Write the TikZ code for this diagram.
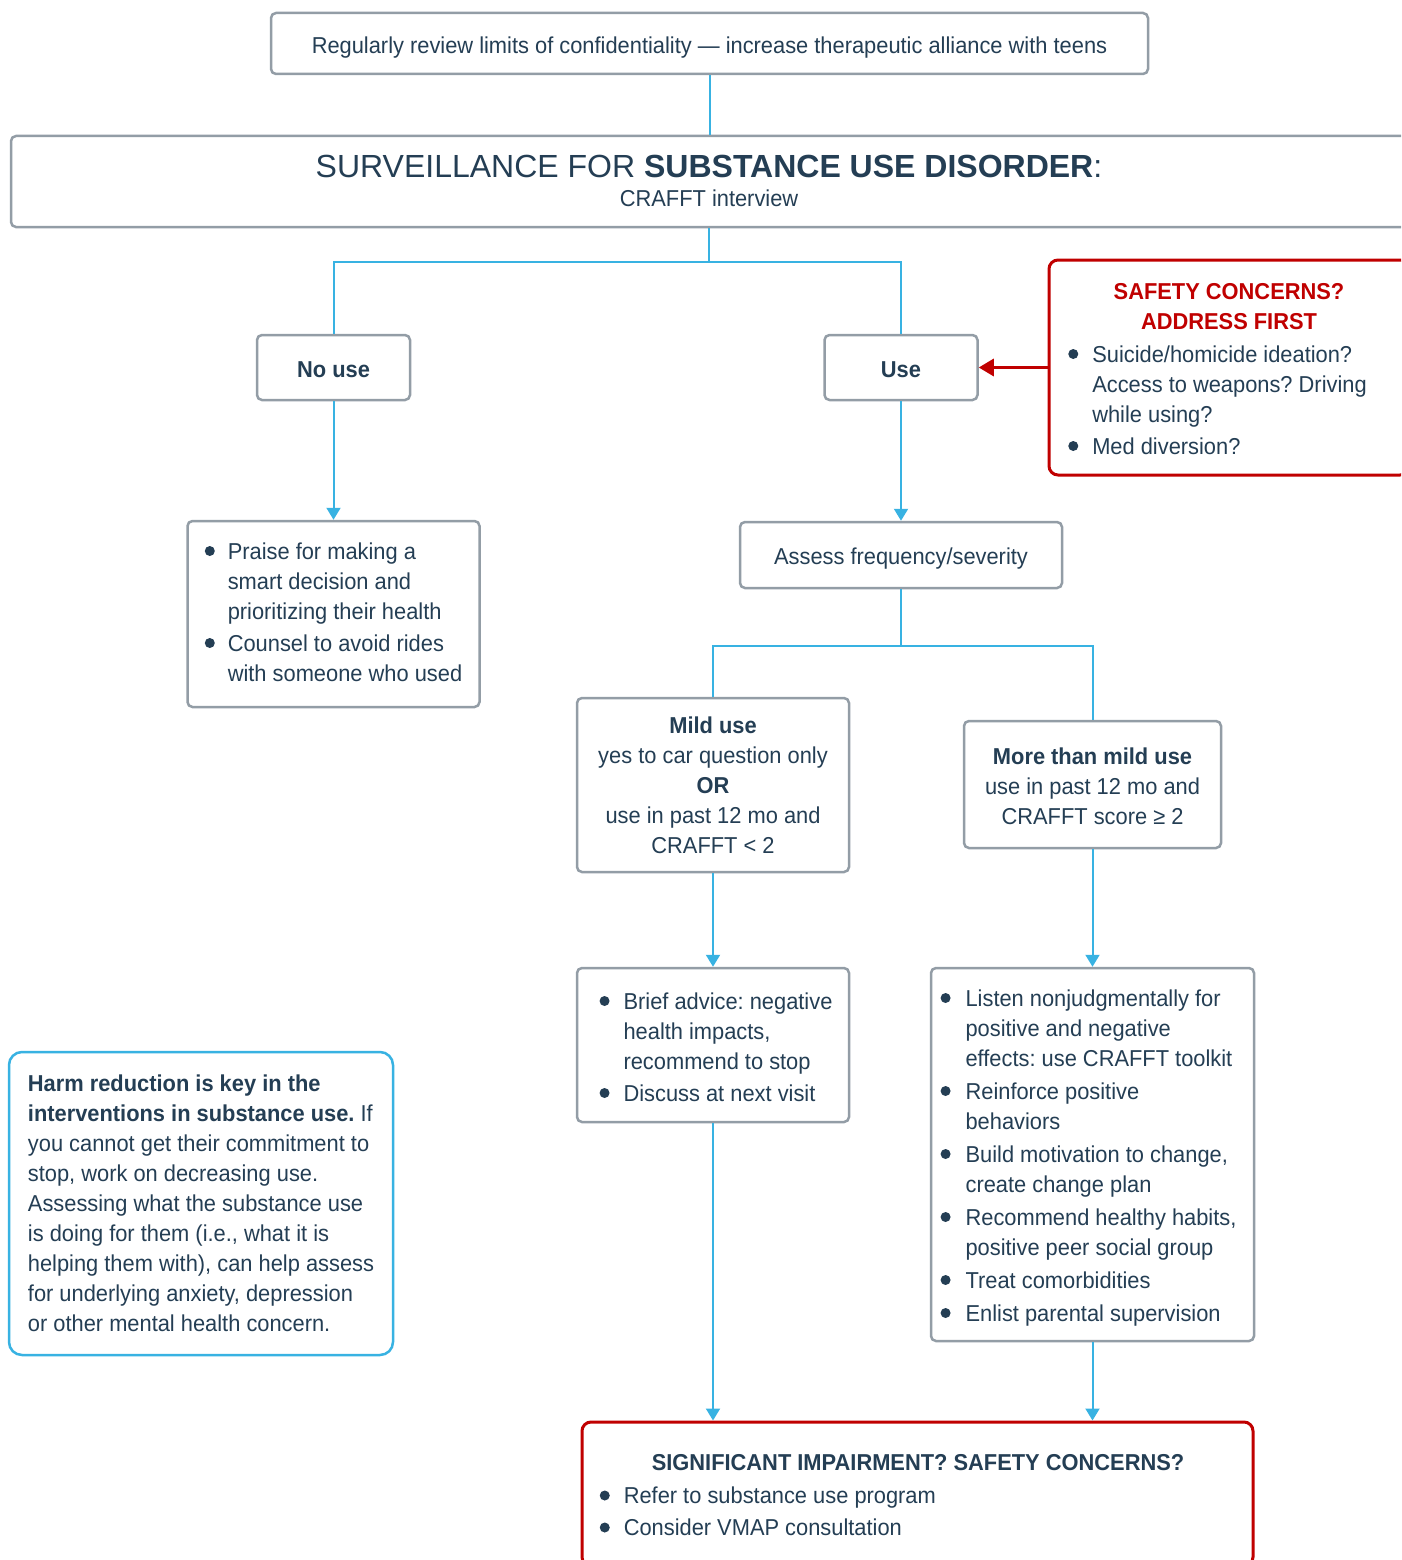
\documentclass[tikz,border=0pt]{standalone}
\usepackage{fontspec}
\setmainfont[FakeStretch=0.95]{Liberation Sans}
\newfontfamily\widefont{Liberation Sans}
\usetikzlibrary{arrows.meta}
\definecolor{txt}{RGB}{36,62,84}
\definecolor{boxgray}{RGB}{147,157,166}
\definecolor{lineblue}{RGB}{56,178,226}
\definecolor{redc}{RGB}{192,0,0}
\frenchspacing
\newcommand{\mybul}{\tikz[baseline=0pt]\fill[txt] (5pt,8pt) circle[radius=5pt];}
\newcommand{\dn}[2]{\raisebox{-#1}[\height][\depth]{#2}}
\begin{document}
\begin{tikzpicture}[x=1pt,y=-1pt,
  base/.style={text=txt, inner sep=0pt, align=center, font=\fontsize{23}{30}\selectfont},
  box/.style={base, draw=boxgray, line width=2.5pt, rounded corners=5pt, fill=white},
  redbox/.style={base, draw=redc, line width=3pt, rounded corners=9pt, fill=white},
  bluebox/.style={base, draw=lineblue, line width=2.5pt, rounded corners=13pt, fill=white},
  conn/.style={draw=lineblue, line width=2pt},
  arr/.style={conn, -{Triangle[width=14pt,length=12pt]}},
  redarr/.style={draw=redc, line width=3pt, -{Triangle[width=17pt,length=15pt]}}
]
\useasboundingbox (0,0) rectangle (1401,1560);
\clip (0,0) rectangle (1401,1560);

\node[box, minimum width=877, minimum height=61] (top) at (709.5,43.5)
  {\dn{4pt}{Regularly review limits of confidentiality — increase therapeutic alliance with teens}};

\node[box, minimum width=1396, minimum height=91] (surv) at (709,181.5)
  {\dn{4pt}{\begin{tabular}{@{}c@{}}{\widefont\fontsize{32}{34}\selectfont SURVEILLANCE FOR \textbf{SUBSTANCE USE DISORDER}:}\\[-1pt]
   CRAFFT interview\end{tabular}}};

\node[box, minimum width=153, minimum height=65, font=\fontsize{23}{30}\selectfont\bfseries] (nouse) at (333.5,367.5) {\dn{2pt}{No use}};
\node[box, minimum width=153, minimum height=65, font=\fontsize{23}{30}\selectfont\bfseries] (use) at (901,367.5) {\dn{2pt}{Use}};

\node[redbox, minimum width=360, minimum height=215] (safety) at (1229,367.5)
  {\dn{3pt}{\begin{tabular}{@{}p{24pt}@{}l@{}}
   \multicolumn{2}{c}{\hspace*{23pt}\color{redc}\bfseries SAFETY CONCERNS?}\\
   \multicolumn{2}{c}{\hspace*{23pt}\color{redc}\bfseries ADDRESS FIRST}\\[3pt]
   \mybul & Suicide/homicide ideation?\\
   & Access to weapons? Driving\\
   & while using?\\[2pt]
   \mybul & Med diversion?
   \end{tabular}}\hspace*{23pt}};

\node[box, minimum width=292, minimum height=186] (praise) at (333.5,614)
  {\begin{tabular}{@{}p{23pt}@{}l@{}}
   \mybul & Praise for making a\\
   & smart decision and\\
   & prioritizing their health\\[2pt]
   \mybul & Counsel to avoid rides\\
   & with someone who used
   \end{tabular}};

\node[box, minimum width=322, minimum height=66] (assess) at (901,555) {\dn{4pt}{Assess frequency/severity}};

\node[box, minimum width=272, minimum height=174] (mild) at (713,785)
  {\textbf{Mild use}\\ yes to car question only\\ \textbf{OR}\\ use in past 12 mo and\\ CRAFFT < 2};

\node[box, minimum width=257, minimum height=127] (more) at (1092.5,784.5)
  {\dn{4pt}{\begin{tabular}{@{}c@{}}\textbf{More than mild use}\\ use in past 12 mo and\\ CRAFFT score ≥ 2\end{tabular}}};

\node[box, minimum width=272, minimum height=154] (brief) at (713,1045)
  {\hspace*{6pt}\dn{4pt}{\begin{tabular}{@{}p{24pt}@{}l@{}}
   \mybul & Brief advice: negative\\
   & health impacts,\\
   & recommend to stop\\[2pt]
   \mybul & Discuss at next visit
   \end{tabular}}};

\node[box, minimum width=323, minimum height=373] (listen) at (1092.5,1154.5)
  {\dn{3pt}{\begin{tabular}{@{}p{25pt}@{}l@{}}
   \mybul & Listen nonjudgmentally for\\
   & positive and negative\\
   & effects: use CRAFFT toolkit\\[3pt]
   \mybul & Reinforce positive\\
   & behaviors\\[3pt]
   \mybul & Build motivation to change,\\
   & create change plan\\[3pt]
   \mybul & Recommend healthy habits,\\
   & positive peer social group\\[3pt]
   \mybul & Treat comorbidities\\[3pt]
   \mybul & Enlist parental supervision
   \end{tabular}}\hspace*{8pt}};

\node[bluebox, minimum width=384, minimum height=303, align=left] (harm) at (201,1203.5)
  {\textbf{Harm reduction is key in the}\\
   \textbf{interventions in substance use.} If\\
   you cannot get their commitment to\\
   stop, work on decreasing use.\\
   Assessing what the substance use\\
   is doing for them (i.e., what it is\\
   helping them with), can help assess\\
   for underlying anxiety, depression\\
   or other mental health concern.\hspace*{4pt}};

\node[redbox, minimum width=671, minimum height=144] (bottom) at (917.5,1494)
  {\dn{3pt}{\begin{tabular}{@{}p{24pt}@{}l@{}}
   \multicolumn{2}{@{}l@{}}{\hspace*{52pt}\bfseries SIGNIFICANT IMPAIRMENT? SAFETY CONCERNS?}\\[3pt]
   \mybul & Refer to substance use program\\[2pt]
   \mybul & Consider VMAP consultation
   \end{tabular}}\hspace*{51pt}};

% connectors
\coordinate (j1) at (709,262);
\coordinate (j2) at (901,646);
\draw[conn] (top.south) -- (top.south |- surv.north);
\draw[conn] (surv.south) -- (surv.south |- j1) -| (nouse.north);
\draw[conn] (surv.south |- j1) -| (use.north);
\draw[arr] (nouse.south) -- (praise.north);
\draw[arr] (use.south) -- (assess.north);
\draw[redarr] (safety.west |- use.east) -- (use.east);
\draw[conn] (assess.south) -- (assess.south |- j2) -| (mild.north);
\draw[conn] (assess.south |- j2) -| (more.north);
\draw[arr] (mild.south) -- (brief.north);
\draw[arr] (more.south) -- (listen.north);
\draw[arr] (brief.south) -- (brief.south |- bottom.north);
\draw[arr] (listen.south) -- (listen.south |- bottom.north);
\end{tikzpicture}
\end{document}
